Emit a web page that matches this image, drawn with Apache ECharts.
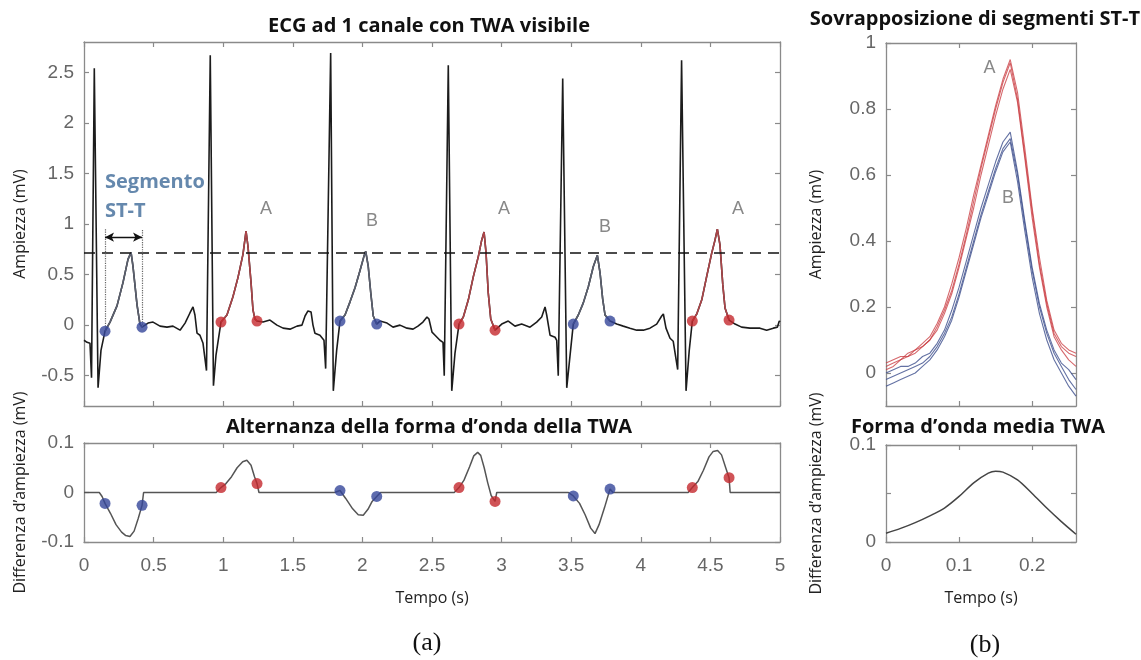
<!DOCTYPE html>
<html><head><meta charset="utf-8">
<script src="https://cdn.jsdelivr.net/npm/echarts@6/dist/echarts.min.js"></script>
<style>html,body{margin:0;padding:0;background:#fff}#c{width:1141px;height:660px}</style>
</head><body><div id="c"></div>
<script>
// ---------- DATA ----------
// ECG a 1 canale (tempo s, ampiezza mV)
const ecgT = [0,0.022,0.043,0.054,0.074,0.101,0.122,0.151,0.187,0.237,0.280,0.316,0.338,0.352,0.381,0.402,0.417,
  0.460,0.496,0.546,0.596,0.639,0.690,0.726,0.761,0.783,0.797,0.812,0.833,0.855,0.880,0.907,0.930,0.948,
  0.984,1.027,1.070,1.106,1.142,1.164,1.178,1.200,1.214,1.228,1.243,
  1.286,1.336,1.386,1.430,1.480,1.530,1.566,1.588,1.609,1.631,1.645,1.659,1.695,1.724,1.736,1.772,1.791,1.815,
  1.839,1.875,1.911,1.947,1.983,2.011,2.024,2.042,2.060,2.078,2.103,
  2.126,2.177,2.220,2.270,2.320,2.364,2.399,2.435,2.464,2.478,2.500,2.522,2.557,2.579,2.588,2.617,2.642,2.665,
  2.694,2.725,2.761,2.797,2.833,2.857,2.874,2.888,2.904,2.922,2.953,
  3.001,3.048,3.096,3.144,3.204,3.252,3.288,3.312,3.324,3.348,3.384,3.396,3.407,3.439,3.468,3.491,
  3.515,3.551,3.587,3.623,3.659,3.688,3.707,3.726,3.743,3.779,
  3.827,3.874,3.922,3.971,4.018,4.066,4.114,4.150,4.162,4.181,4.210,4.233,4.265,4.293,4.325,4.348,
  4.370,4.402,4.438,4.473,4.509,4.533,4.550,4.569,4.589,4.605,4.634,
  4.677,4.724,4.784,4.856,4.904,4.952,4.981,4.995,5.0];
const ecgV = [-0.15,-0.17,-0.18,-0.52,2.54,-0.62,-0.25,-0.06,0.03,0.19,0.42,0.65,0.72,0.58,0.20,0.01,-0.02,
  0.02,0.03,-0.01,-0.02,-0.01,-0.05,0.02,0.12,0.18,0.10,-0.08,-0.10,-0.18,-0.45,2.67,-0.60,-0.30,
  0.03,0.10,0.28,0.47,0.70,0.93,0.78,0.42,0.15,0.06,0.04,
  0.03,0.05,0.00,-0.03,-0.04,-0.01,0.00,0.09,0.14,0.13,0.00,-0.08,-0.10,-0.15,-0.43,2.69,-0.65,-0.25,
  0.04,0.10,0.23,0.37,0.54,0.68,0.73,0.58,0.32,0.09,0.01,
  0.04,0.02,-0.02,0.00,-0.03,-0.04,-0.01,0.03,0.08,0.06,-0.07,-0.10,-0.15,-0.17,-0.50,2.57,-0.65,-0.28,
  0.01,0.08,0.25,0.48,0.68,0.84,0.92,0.72,0.32,0.06,-0.05,
  0.01,0.04,-0.01,0.01,-0.02,0.03,0.08,0.18,0.10,-0.10,-0.12,-0.15,-0.50,2.44,-0.62,-0.31,
  0.01,0.10,0.22,0.38,0.58,0.69,0.52,0.26,0.10,0.04,
  0.01,-0.01,-0.03,-0.05,-0.05,-0.03,0.01,0.09,0.11,-0.03,-0.13,-0.16,-0.44,2.62,-0.65,-0.25,
  0.04,0.11,0.25,0.48,0.71,0.84,0.95,0.79,0.40,0.17,0.05,
  0.01,-0.02,-0.03,-0.03,-0.05,-0.03,-0.02,0.04,0.03];
// inizio/fine dei segmenti ST-T (punti) e loro tipo
const stDotT = [0.151,0.417, 0.984,1.243, 1.839,2.103, 2.694,2.953, 3.515,3.779, 4.370,4.634];
const stDotV = [-0.06,-0.02, 0.03,0.04, 0.04,0.01, 0.01,-0.05, 0.01,0.04, 0.04,0.05];
const stType = ['B','A','B','A','B','A'];
const twaThreshold = 0.72;
const beatLabelT = [1.307,2.069,3.017,3.743,4.698];
const beatLabelV = [1.15,1.03,1.15,0.97,1.15];
const beatLabel = ['A','B','A','B','A'];

// Alternanza della forma d'onda (tempo s, mV)
const diffT = [0,0.11,0.13,0.151,0.19,0.23,0.27,0.30,0.33,0.36,0.39,0.417,0.426,0.428,
  0.95,0.984,1.02,1.06,1.10,1.14,1.17,1.20,1.225,1.243,1.255,1.257,
  1.80,1.839,1.88,1.93,1.97,2.006,2.04,2.07,2.103,2.13,
  2.66,2.694,2.73,2.77,2.80,2.828,2.85,2.875,2.90,2.925,2.953,2.965,
  3.48,3.515,3.56,3.60,3.64,3.671,3.70,3.74,3.779,3.80,
  4.34,4.370,4.41,4.45,4.49,4.52,4.552,4.58,4.61,4.634,4.640,4.642,5];
const diffV = [0,0,-0.008,-0.022,-0.042,-0.065,-0.080,-0.087,-0.089,-0.078,-0.052,-0.026,-0.024,0,
  0,0.010,0.018,0.032,0.050,0.062,0.065,0.055,0.032,0.018,0.017,0,
  0,0.004,-0.012,-0.033,-0.045,-0.046,-0.034,-0.018,-0.008,0,
  0,0.010,0.025,0.052,0.074,0.081,0.075,0.050,0.020,-0.006,-0.018,0,
  0,-0.007,-0.022,-0.045,-0.072,-0.083,-0.065,-0.030,0.007,0,
  0,0.010,0.022,0.045,0.072,0.083,0.085,0.076,0.050,0.030,0.029,0,0];
const diffDotV = [-0.022,-0.026, 0.010,0.018, 0.004,-0.008, 0.010,-0.018, -0.007,0.007, 0.010,0.030];

// Sovrapposizione di segmenti ST-T
const stT = [0,0.01,0.02,0.03,0.04,0.05,0.06,0.07,0.08,0.09,0.10,0.11,0.12,0.13,0.14,0.15,0.16,0.17,0.18,0.19,0.20,0.21,0.22,0.23,0.24,0.25,0.26];
const stA1 = [0.02,0.03,0.04,0.06,0.07,0.08,0.10,0.14,0.19,0.25,0.33,0.42,0.52,0.62,0.71,0.80,0.88,0.94,0.83,0.66,0.49,0.33,0.21,0.12,0.08,0.06,0.05];
const stA2 = [0.03,0.04,0.05,0.05,0.07,0.09,0.11,0.15,0.20,0.27,0.35,0.44,0.54,0.63,0.72,0.81,0.89,0.95,0.85,0.68,0.50,0.35,0.22,0.13,0.09,0.07,0.06];
const stA3 = [0.01,0.02,0.04,0.05,0.06,0.08,0.10,0.13,0.18,0.24,0.32,0.41,0.50,0.60,0.69,0.78,0.86,0.92,0.82,0.65,0.47,0.32,0.20,0.11,0.07,0.04,0.02];
const stB1 = [0.00,0.01,0.02,0.02,0.03,0.05,0.06,0.09,0.13,0.19,0.26,0.34,0.42,0.50,0.57,0.64,0.70,0.73,0.61,0.46,0.32,0.21,0.13,0.07,0.03,0.01,-0.02];
const stB2 = [-0.02,-0.01,0.00,0.01,0.02,0.03,0.05,0.08,0.12,0.17,0.24,0.32,0.40,0.48,0.55,0.62,0.68,0.71,0.60,0.45,0.31,0.20,0.12,0.06,0.02,-0.02,-0.05];
const stB3 = [-0.04,-0.03,-0.02,-0.01,0.00,0.02,0.04,0.07,0.11,0.16,0.23,0.31,0.39,0.47,0.54,0.61,0.67,0.70,0.58,0.43,0.29,0.18,0.10,0.04,0.00,-0.04,-0.07];
const stLabelT = [0.1415,0.167];
const stLabelV = [0.924,0.53];
const stLabel = ['A','B'];

// Forma d'onda media TWA
const meanT = [0,0.02,0.04,0.06,0.08,0.10,0.12,0.14,0.15,0.16,0.18,0.20,0.22,0.24,0.26];
const meanV = [0.009,0.014,0.020,0.027,0.035,0.047,0.061,0.071,0.073,0.072,0.064,0.050,0.035,0.021,0.008];

// tick labels
const ecgYTicks = [-0.5,0,0.5,1,1.5,2,2.5];
const timeTicks = [0,0.5,1,1.5,2,2.5,3,3.5,4,4.5,5];
const diffYTicks = [-0.1,0,0.1];
const stYTicks = [0,0.2,0.4,0.6,0.8,1];
const stXTicks = [0,0.1,0.2];
const meanYTicks = [0,0.05,0.1];
const meanYLabels = [0,0.1];

// ---------- CHART ----------
const RED = '#c4282d', BLUE = '#34469a';
const AX = '#8a8a8a';
const lab = {color:'#666', fontFamily:'Liberation Sans, Arial, sans-serif', fontSize:19};
const nameStyle = {color:'#222', fontFamily:'Open Sans, sans-serif', fontSize:16};
const pairs = (a,b) => a.map((x,i)=>[x,b[i]]);

function xAx(grid, min, max, ticks, showLabels, pos, extra) {
  return Object.assign({
    type:'value', gridIndex:grid, min:min, max:max, position:pos,
    axisLine:{show:true, onZero:false, lineStyle:{color:AX, width:1.3}},
    axisTick:{show:true, inside:true, length:5, customValues:ticks, lineStyle:{color:AX, width:1.2}},
    axisLabel:Object.assign({show:showLabels, margin:14, customValues:ticks, formatter:v=>String(v)}, lab),
    splitLine:{show:false}
  }, extra||{});
}
function yAx(grid, min, max, ticks, labels, showLabels, pos, extra) {
  return Object.assign({
    type:'value', gridIndex:grid, min:min, max:max, position:pos,
    axisLine:{show:true, onZero:false, lineStyle:{color:AX, width:1.3}},
    axisTick:{show:true, inside:true, length:5, customValues:ticks, lineStyle:{color:AX, width:1.2}},
    axisLabel:Object.assign({show:showLabels, margin:10, customValues:labels, formatter:v=>String(v)}, lab),
    splitLine:{show:false}
  }, extra||{});
}
const yName = (n, gap) => ({name:n, nameLocation:'middle', nameGap:gap, nameRotate:90, nameTextStyle:nameStyle});
const xName = (n, gap) => ({name:n, nameLocation:'middle', nameGap:gap, nameTextStyle:nameStyle});

const series = [];
// ECG principale
series.push({type:'line', xAxisIndex:0, yAxisIndex:0, data:pairs(ecgT, ecgV), showSymbol:false, symbol:'none',
  lineStyle:{color:'#1c1c1c', width:1.6}, z:2, silent:true,
  markLine:{silent:true, symbol:'none', label:{show:false}, lineStyle:{color:'#111', type:[11,7], width:1.5},
    data:[{yAxis:twaThreshold}]}});
// segmenti ST-T colorati
for (let i=0;i<stType.length;i++){
  const a=stDotT[2*i], b=stDotT[2*i+1];
  const seg = pairs(ecgT, ecgV).filter(p=>p[0]>=a-1e-9 && p[0]<=b+1e-9);
  series.push({type:'line', xAxisIndex:0, yAxisIndex:0, data:seg, symbol:'none', silent:true, z:3,
    lineStyle:{color: stType[i]==='A' ? '#ad4549' : '#5b606f', width:1.6}});
}
// linee tratteggiate e freccia del segmento ST-T
series.push({type:'line', xAxisIndex:0, yAxisIndex:0, data:[], silent:true,
  markLine:{silent:true, symbol:'none', label:{show:false}, lineStyle:{color:'#666', type:'dotted', width:1.2},
    data:[[{coord:[stDotT[0],stDotV[0]]},{coord:[stDotT[0],0.95]}],[{coord:[stDotT[1],stDotV[1]]},{coord:[stDotT[1],0.95]}]]}});
series.push({type:'line', xAxisIndex:0, yAxisIndex:0, data:[], silent:true,
  markLine:{silent:true, symbol:['arrow','arrow'], symbolSize:[7,9], label:{show:false}, lineStyle:{color:'#111', type:'solid', width:1.4},
    data:[[{coord:[stDotT[0],0.87]},{coord:[stDotT[1],0.87]}]]}});
// punti
const dotSeries = (xi, yi, vals) => {
  const blue=[], red=[];
  for (let i=0;i<stDotT.length;i++){ (stType[Math.floor(i/2)]==='A'?red:blue).push([stDotT[i], vals[i]]); }
  return [
    {type:'scatter', xAxisIndex:xi, yAxisIndex:yi, data:blue, symbolSize:11, itemStyle:{color:BLUE}, z:5, silent:true},
    {type:'scatter', xAxisIndex:xi, yAxisIndex:yi, data:red, symbolSize:11, itemStyle:{color:RED}, z:5, silent:true}];
};
series.push(...dotSeries(0,0,stDotV));
// etichette A/B
series.push({type:'scatter', xAxisIndex:0, yAxisIndex:0, symbolSize:0, silent:true,
  data:beatLabelT.map((t,i)=>({value:[t,beatLabelV[i]], name:beatLabel[i]})),
  label:Object.assign({show:true, position:'inside', formatter:p=>p.name}, lab, {color:'#6a6a6a', fontSize:18})});
series.push({type:'scatter', xAxisIndex:0, yAxisIndex:0, symbolSize:0, silent:true,
  data:[{value:[stDotT[0],1.41], name:'Segmento'},{value:[stDotT[0],1.13], name:'ST-T'}],
  label:{show:true, position:'right', distance:0, formatter:p=>p.name, color:'#3e6a98', fontFamily:'Open Sans, sans-serif', fontWeight:'bold', fontSize:20}});
// differenza
series.push({type:'line', xAxisIndex:2, yAxisIndex:2, data:pairs(diffT, diffV), symbol:'none', silent:true,
  lineStyle:{color:'#555', width:1.5}});
series.push(...dotSeries(2,2,diffDotV));
// sovrapposizione
[stA1,stA2,stA3].forEach(a=>series.push({type:'line', xAxisIndex:4, yAxisIndex:4, data:pairs(stT,a), symbol:'none', silent:true,
  lineStyle:{color:'rgba(200,55,60,0.75)', width:1.1}}));
[stB1,stB2,stB3].forEach(a=>series.push({type:'line', xAxisIndex:4, yAxisIndex:4, data:pairs(stT,a), symbol:'none', silent:true,
  lineStyle:{color:'rgba(60,78,140,0.8)', width:1.1}}));
series.push({type:'scatter', xAxisIndex:4, yAxisIndex:4, symbolSize:0, silent:true,
  data:stLabelT.map((t,i)=>({value:[t,stLabelV[i]], name:stLabel[i]})),
  label:Object.assign({show:true, position:'inside', formatter:p=>p.name}, lab, {color:'#6a6a6a', fontSize:18})});
// media
series.push({type:'line', xAxisIndex:6, yAxisIndex:6, data:pairs(meanT, meanV), symbol:'none', smooth:0.3, silent:true,
  lineStyle:{color:'#444', width:1.5}});

const titleFont = {fontFamily:'Open Sans, sans-serif', fontWeight:'bold', fontSize:20, fill:'#111'};
const txt = (s, x, y, st) => ({type:'text', x:x, y:y, silent:true,
  style:Object.assign({text:s, textAlign:'center', textVerticalAlign:'middle'}, st)});

const option = {
  animation:false,
  backgroundColor:'#fff',
  grid:[
    {left:84, top:42, width:696, height:364},
    {left:84, top:443, width:696, height:99},
    {left:886, top:43, width:190, height:363},
    {left:886, top:445, width:190, height:97}
  ],
  xAxis:[
    xAx(0,0,5,timeTicks,false,'bottom'),
    xAx(0,0,5,timeTicks,false,'top'),
    xAx(1,0,5,timeTicks,true,'bottom', xName('Tempo (s)',48)),
    xAx(1,0,5,timeTicks,false,'top'),
    xAx(2,0,0.26,stXTicks,false,'bottom'),
    xAx(2,0,0.26,stXTicks,false,'top'),
    xAx(3,0,0.26,stXTicks,true,'bottom', xName('Tempo (s)',48)),
    xAx(3,0,0.26,stXTicks,false,'top')
  ],
  yAxis:[
    yAx(0,-0.8,2.8,ecgYTicks,ecgYTicks,true,'left', yName('Ampiezza (mV)',56)),
    yAx(0,-0.8,2.8,ecgYTicks,ecgYTicks,false,'right'),
    yAx(1,-0.1,0.1,diffYTicks,diffYTicks,true,'left', yName('Differenza d’ampiezza (mV)',56)),
    yAx(1,-0.1,0.1,diffYTicks,diffYTicks,false,'right'),
    yAx(2,-0.1,1,stYTicks,stYTicks,true,'left', yName('Ampiezza (mV)',62)),
    yAx(2,-0.1,1,stYTicks,stYTicks,false,'right'),
    yAx(3,0,0.1,meanYTicks,meanYLabels,true,'left', yName('Differenza d’ampiezza (mV)',62)),
    yAx(3,0,0.1,meanYTicks,meanYLabels,false,'right')
  ],
  graphic:[
    txt('ECG ad 1 canale con TWA visibile', 429, 26, titleFont),
    txt('Alternanza della forma d’onda della TWA', 429, 427, titleFont),
    txt('Sovrapposizione di segmenti ST-T', 975, 19, titleFont),
    txt('Forma d’onda media TWA', 978, 427, titleFont),
    txt('(a)', 427, 643, {fontFamily:'Liberation Serif, serif', fontSize:26, fill:'#111'}),
    txt('(b)', 985, 645, {fontFamily:'Liberation Serif, serif', fontSize:26, fill:'#111'})
  ],
  series:series
};
const chart = echarts.init(document.getElementById('c'), null, {renderer:'canvas'});
chart.setOption(option);
</script>
</body></html>
